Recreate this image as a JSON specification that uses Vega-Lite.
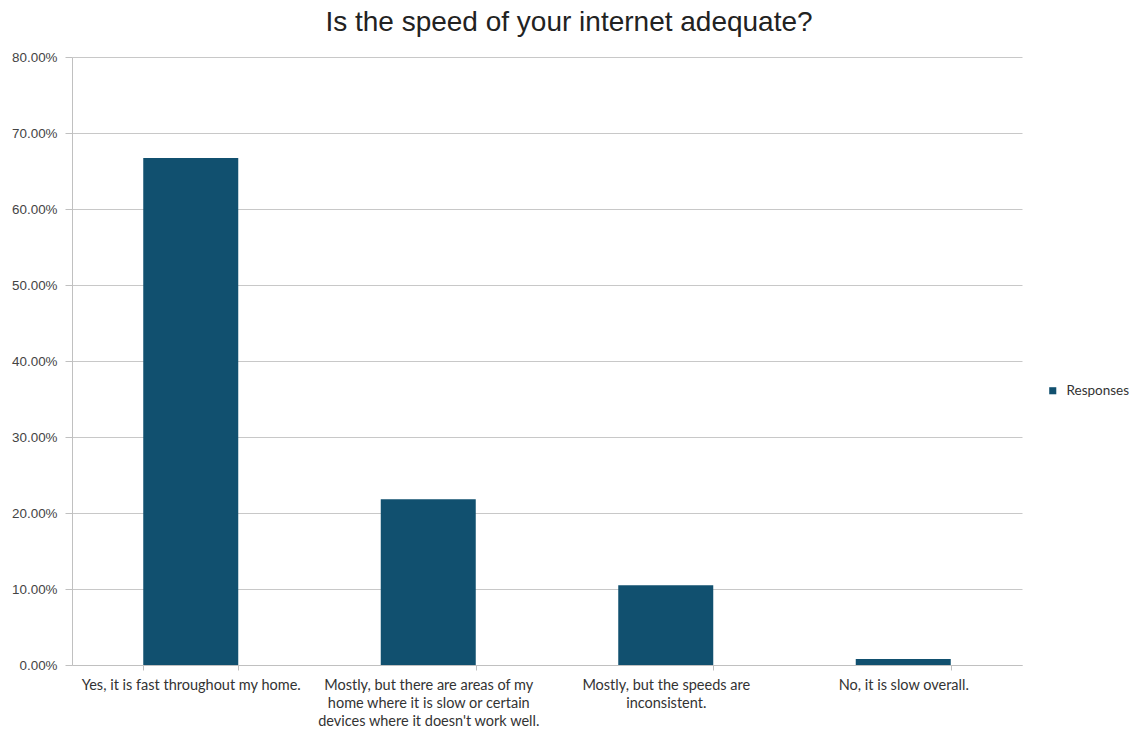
{
  "$schema": "https://vega.github.io/schema/vega-lite/v6.json",
  "autosize": "none",
  "width": 950,
  "height": 608,
  "padding": {"left": 72, "top": 57, "right": 113, "bottom": 69},
  "background": "white",
  "title": {
    "text": "Is the speed of your internet adequate?",
    "font": "Liberation Sans",
    "fontSize": 28,
    "fontWeight": "normal",
    "color": "#222222",
    "anchor": "middle",
    "dx": 22,
    "offset": 13
  },
  "data": {
    "values": [
      {"answer": "Yes, it is fast throughout my home.", "series": "Responses", "share": 0.667},
      {"answer": "Mostly, but there are areas of my home where it is slow or certain devices where it doesn't work well.", "series": "Responses", "share": 0.218},
      {"answer": "Mostly, but the speeds are inconsistent.", "series": "Responses", "share": 0.105},
      {"answer": "No, it is slow overall.", "series": "Responses", "share": 0.008}
    ]
  },
  "mark": {"type": "bar"},
  "encoding": {
    "x": {
      "field": "answer",
      "type": "nominal",
      "sort": null,
      "scale": {"paddingInner": 0.6, "paddingOuter": 0.3},
      "axis": {
        "title": null,
        "labelAngle": 0,
        "tickBand": "extent",
        "tickSize": 5,
        "tickColor": "#c0c0c0",
        "domainColor": "#c0c0c0",
        "labelFont": "Lato",
        "labelFontSize": 14.5,
        "labelColor": "#333333",
        "labelPadding": 8,
        "labelLineHeight": 18.3,
        "labelLimit": 0,
        "labelExpr": "test(/areas/, datum.label) ? ['Mostly, but there are areas of my', 'home where it is slow or certain', \"devices where it doesn't work well.\"] : test(/inconsistent/, datum.label) ? ['Mostly, but the speeds are', 'inconsistent.'] : datum.label"
      }
    },
    "y": {
      "field": "share",
      "type": "quantitative",
      "scale": {"domain": [0, 0.8]},
      "axis": {
        "title": null,
        "format": ".2%",
        "values": [0, 0.1, 0.2, 0.3, 0.4, 0.5, 0.6, 0.7, 0.8],
        "grid": true,
        "gridColor": "#c8c8c8",
        "tickColor": "#c0c0c0",
        "domainColor": "#c0c0c0",
        "tickSize": 7,
        "labelFont": "Liberation Sans",
        "labelFontSize": 13.4,
        "labelColor": "#444444",
        "labelPadding": 8
      }
    },
    "color": {
      "field": "series",
      "type": "nominal",
      "scale": {"range": ["#11506f"]},
      "legend": {
        "title": null,
        "orient": "none",
        "legendX": 974,
        "legendY": 327,
        "symbolType": "square",
        "symbolSize": 50,
        "labelOffset": 7,
        "labelFont": "Lato",
        "labelFontSize": 13.5,
        "labelColor": "#333333"
      }
    }
  },
  "config": {"view": {"stroke": null}}
}
